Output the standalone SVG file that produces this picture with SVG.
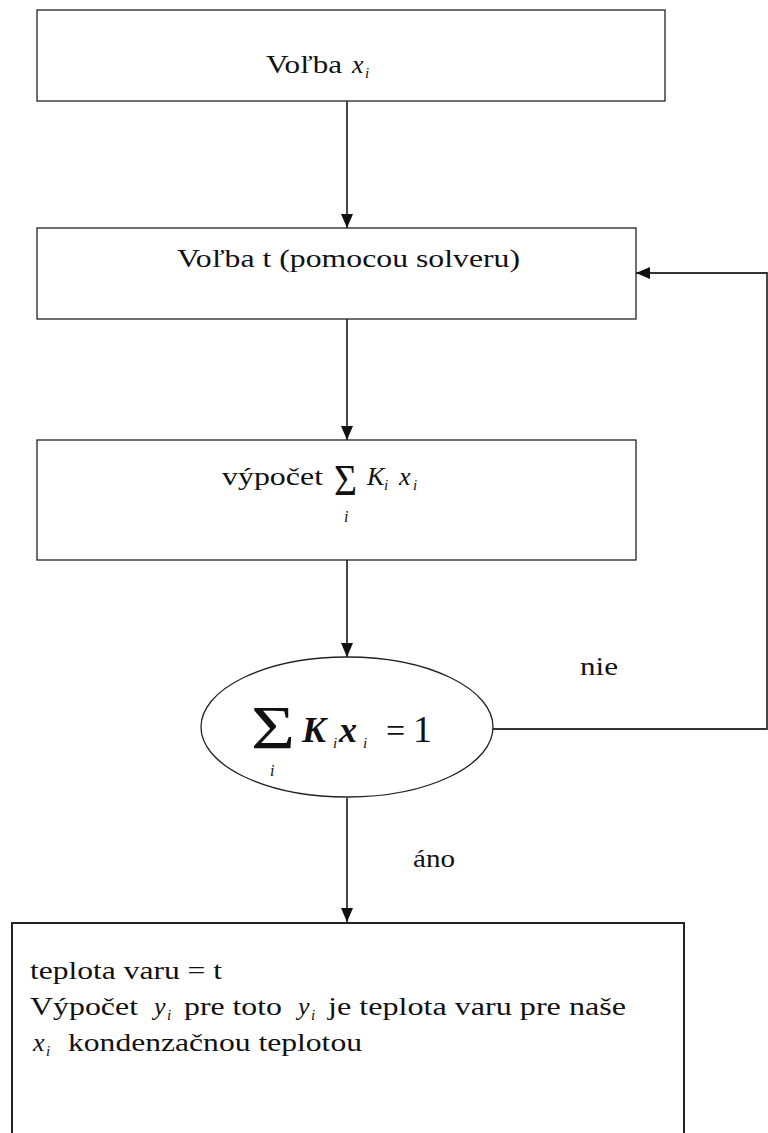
<svg xmlns="http://www.w3.org/2000/svg" width="768" height="1133" viewBox="0 0 768 1133">
<style>
.box{fill:#fff;stroke:#222;stroke-width:1.3}
.conn{fill:none;stroke:#333;stroke-width:1.8}
.t{font-family:"Liberation Serif","Times New Roman",serif;font-size:26px;fill:#111}
.m{font-family:"Liberation Serif","Times New Roman",serif;font-style:italic;font-size:26px;fill:#111}
.s{font-family:"Liberation Serif","Times New Roman",serif;font-style:italic;font-size:15px;fill:#111}
.b{font-family:"Liberation Serif","Times New Roman",serif;font-style:italic;font-weight:bold;font-size:36px;fill:#111}
</style>
<defs>
<marker id="ah" markerUnits="userSpaceOnUse" markerWidth="14" markerHeight="12" refX="14" refY="6" orient="auto">
<path d="M0,0 L14,6 L0,12 Z" fill="#111"/>
</marker>
</defs>
<rect width="768" height="1133" fill="#fff"/>
<g id="connectors">
<line class="conn" x1="347" y1="101" x2="347" y2="228" marker-end="url(#ah)"/>
<line class="conn" x1="347" y1="319" x2="347" y2="440" marker-end="url(#ah)"/>
<line class="conn" x1="347" y1="560" x2="347" y2="657" marker-end="url(#ah)"/>
<line class="conn" x1="347" y1="798" x2="347" y2="922" marker-end="url(#ah)"/>
<polyline class="conn" points="493,729 767,729 767,273 636,273" marker-end="url(#ah)"/>
<text class="t" x="580" y="675" textLength="38" lengthAdjust="spacingAndGlyphs">nie</text>
<text class="t" x="413" y="867" textLength="42" lengthAdjust="spacingAndGlyphs">áno</text>
</g>
<g id="n1">
<rect class="box" x="37" y="10" width="628" height="91"/>
<text class="t" x="266" y="73" textLength="76" lengthAdjust="spacingAndGlyphs">Voľba</text>
<text class="m" x="352" y="73">x</text>
<text class="s" x="365" y="78">i</text>
</g>
<g id="n2">
<rect class="box" x="37" y="228" width="599" height="91"/>
<text class="t" x="177" y="267" textLength="343" lengthAdjust="spacingAndGlyphs">Voľba t (pomocou solveru)</text>
</g>
<g id="n3">
<rect class="box" x="37" y="440" width="599" height="120"/>
<text class="t" x="222" y="485" textLength="101" lengthAdjust="spacingAndGlyphs">výpočet</text>
<text class="t" x="334" y="495" textLength="23" lengthAdjust="spacingAndGlyphs" style="font-size:44px">Σ</text>
<text class="s" x="344" y="522" style="font-size:16px">i</text>
<text class="m" x="367" y="485">K</text>
<text class="s" x="384" y="490">i</text>
<text class="m" x="399" y="485">x</text>
<text class="s" x="413" y="490">i</text>
</g>
<g id="n4">
<ellipse class="box" cx="347" cy="727" rx="146" ry="70"/>
<text class="t" x="251" y="748" textLength="44" lengthAdjust="spacingAndGlyphs" style="font-size:62px">Σ</text>
<text class="s" x="270" y="776" style="font-size:16px">i</text>
<text class="b" x="302" y="742">K</text>
<text class="s" x="333" y="748">i</text>
<text class="b" x="339" y="742">x</text>
<text class="s" x="363" y="748">i</text>
<text class="t" x="386" y="742" style="font-size:34px">=</text>
<text class="t" x="413" y="742" style="font-size:38px">1</text>
</g>
<g id="n5">
<rect class="box" x="12" y="923" width="672" height="230" style="stroke-width:2"/>
<text class="t" x="30" y="979" textLength="192" lengthAdjust="spacingAndGlyphs">teplota varu = t</text>
<text class="t" x="30" y="1015" textLength="108" lengthAdjust="spacingAndGlyphs">Výpočet</text>
<text class="m" x="154" y="1015">y</text>
<text class="s" x="167" y="1020">i</text>
<text class="t" x="184" y="1015" textLength="98" lengthAdjust="spacingAndGlyphs">pre toto</text>
<text class="m" x="298" y="1015">y</text>
<text class="s" x="311" y="1020">i</text>
<text class="t" x="328" y="1015" textLength="298" lengthAdjust="spacingAndGlyphs">je teplota varu pre naše</text>
<text class="m" x="33" y="1051">x</text>
<text class="s" x="46" y="1056">i</text>
<text class="t" x="68" y="1051" textLength="294" lengthAdjust="spacingAndGlyphs">kondenzačnou teplotou</text>
</g>
</svg>
